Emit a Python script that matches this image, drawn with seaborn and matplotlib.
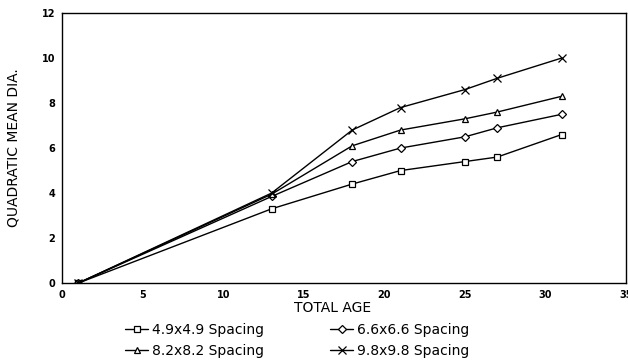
import seaborn as sns
import matplotlib.pyplot as plt
import pandas as pd

# Values
ages = [1, 13, 18, 21, 25, 27, 31]
sp_49 = [0, 3.3, 4.4, 5.0, 5.4, 5.6, 6.6]
sp_66 = [0, 3.85, 5.4, 6.0, 6.5, 6.9, 7.5]
sp_82 = [0, 3.95, 6.1, 6.8, 7.3, 7.6, 8.3]
sp_98 = [0, 4.0, 6.8, 7.8, 8.6, 9.1, 10.0]
labels = ['4.9x4.9 Spacing', '6.6x6.6 Spacing', '8.2x8.2 Spacing', '9.8x9.8 Spacing']

frames = []
for lab, vals in zip(labels, [sp_49, sp_66, sp_82, sp_98]):
    frames.append(pd.DataFrame({'age': ages, 'dia': vals, 'spacing': lab}))
df = pd.concat(frames, ignore_index=True)

sns.set_style("white")
plt.rcParams['font.family'] = ['DejaVu Sans']
plt.rcParams['text.color'] = 'black'
plt.rcParams['axes.labelcolor'] = 'black'

fig = plt.figure(figsize=(6.28, 3.62), dpi=100)
ax = fig.add_axes([0.099, 0.218, 0.898, 0.746])

markers = {labels[0]: 's', labels[1]: 'D', labels[2]: '^', labels[3]: 'x'}
sizes = {labels[0]: 5, labels[1]: 4, labels[2]: 5, labels[3]: 6}
for lab in labels:
    sub = df[df['spacing'] == lab]
    sns.lineplot(data=sub, x='age', y='dia', ax=ax, color='black', lw=1.0,
                 marker=markers[lab], markersize=sizes[lab],
                 markerfacecolor='white', markeredgecolor='black',
                 markeredgewidth=0.9, label=lab)

ax.set_xlim(0, 35)
ax.set_ylim(0, 12)
ax.set_xticks([0, 5, 10, 15, 20, 25, 30, 35])
ax.set_xticklabels(['0', '5', '10', '15', '20', '25', '30', '35'])
ax.set_yticks([0, 2, 4, 6, 8, 10, 12])
ax.tick_params(direction='in', length=4, width=1, colors='black',
               labelsize=7, pad=5)
for t in ax.get_xticklabels() + ax.get_yticklabels():
    t.set_fontweight('bold')
for s in ax.spines.values():
    s.set_color('black')
    s.set_linewidth(1.0)

ax.set_xlabel('TOTAL AGE', fontsize=10, color='black')
ax.xaxis.set_label_coords(0.48, -0.065)
ax.set_ylabel('QUADRATIC MEAN DIA.', fontsize=10, color='black')
ax.yaxis.set_label_coords(-0.074, 0.5)

# row-wise order like the reference: 4.9 | 6.6 on top, 8.2 | 9.8 below
handles, labs = ax.get_legend_handles_labels()
order = [0, 2, 1, 3]
leg = ax.legend([handles[i] for i in order], [labs[i] for i in order], ncol=2,
                frameon=False, fontsize=10, loc='upper left',
                bbox_to_anchor=(0.09, -0.1), handlelength=1.6,
                columnspacing=4.8, labelspacing=0.55, handletextpad=0.3)
for t in leg.get_texts():
    t.set_color('black')

fig.savefig('out.png', dpi=100)
